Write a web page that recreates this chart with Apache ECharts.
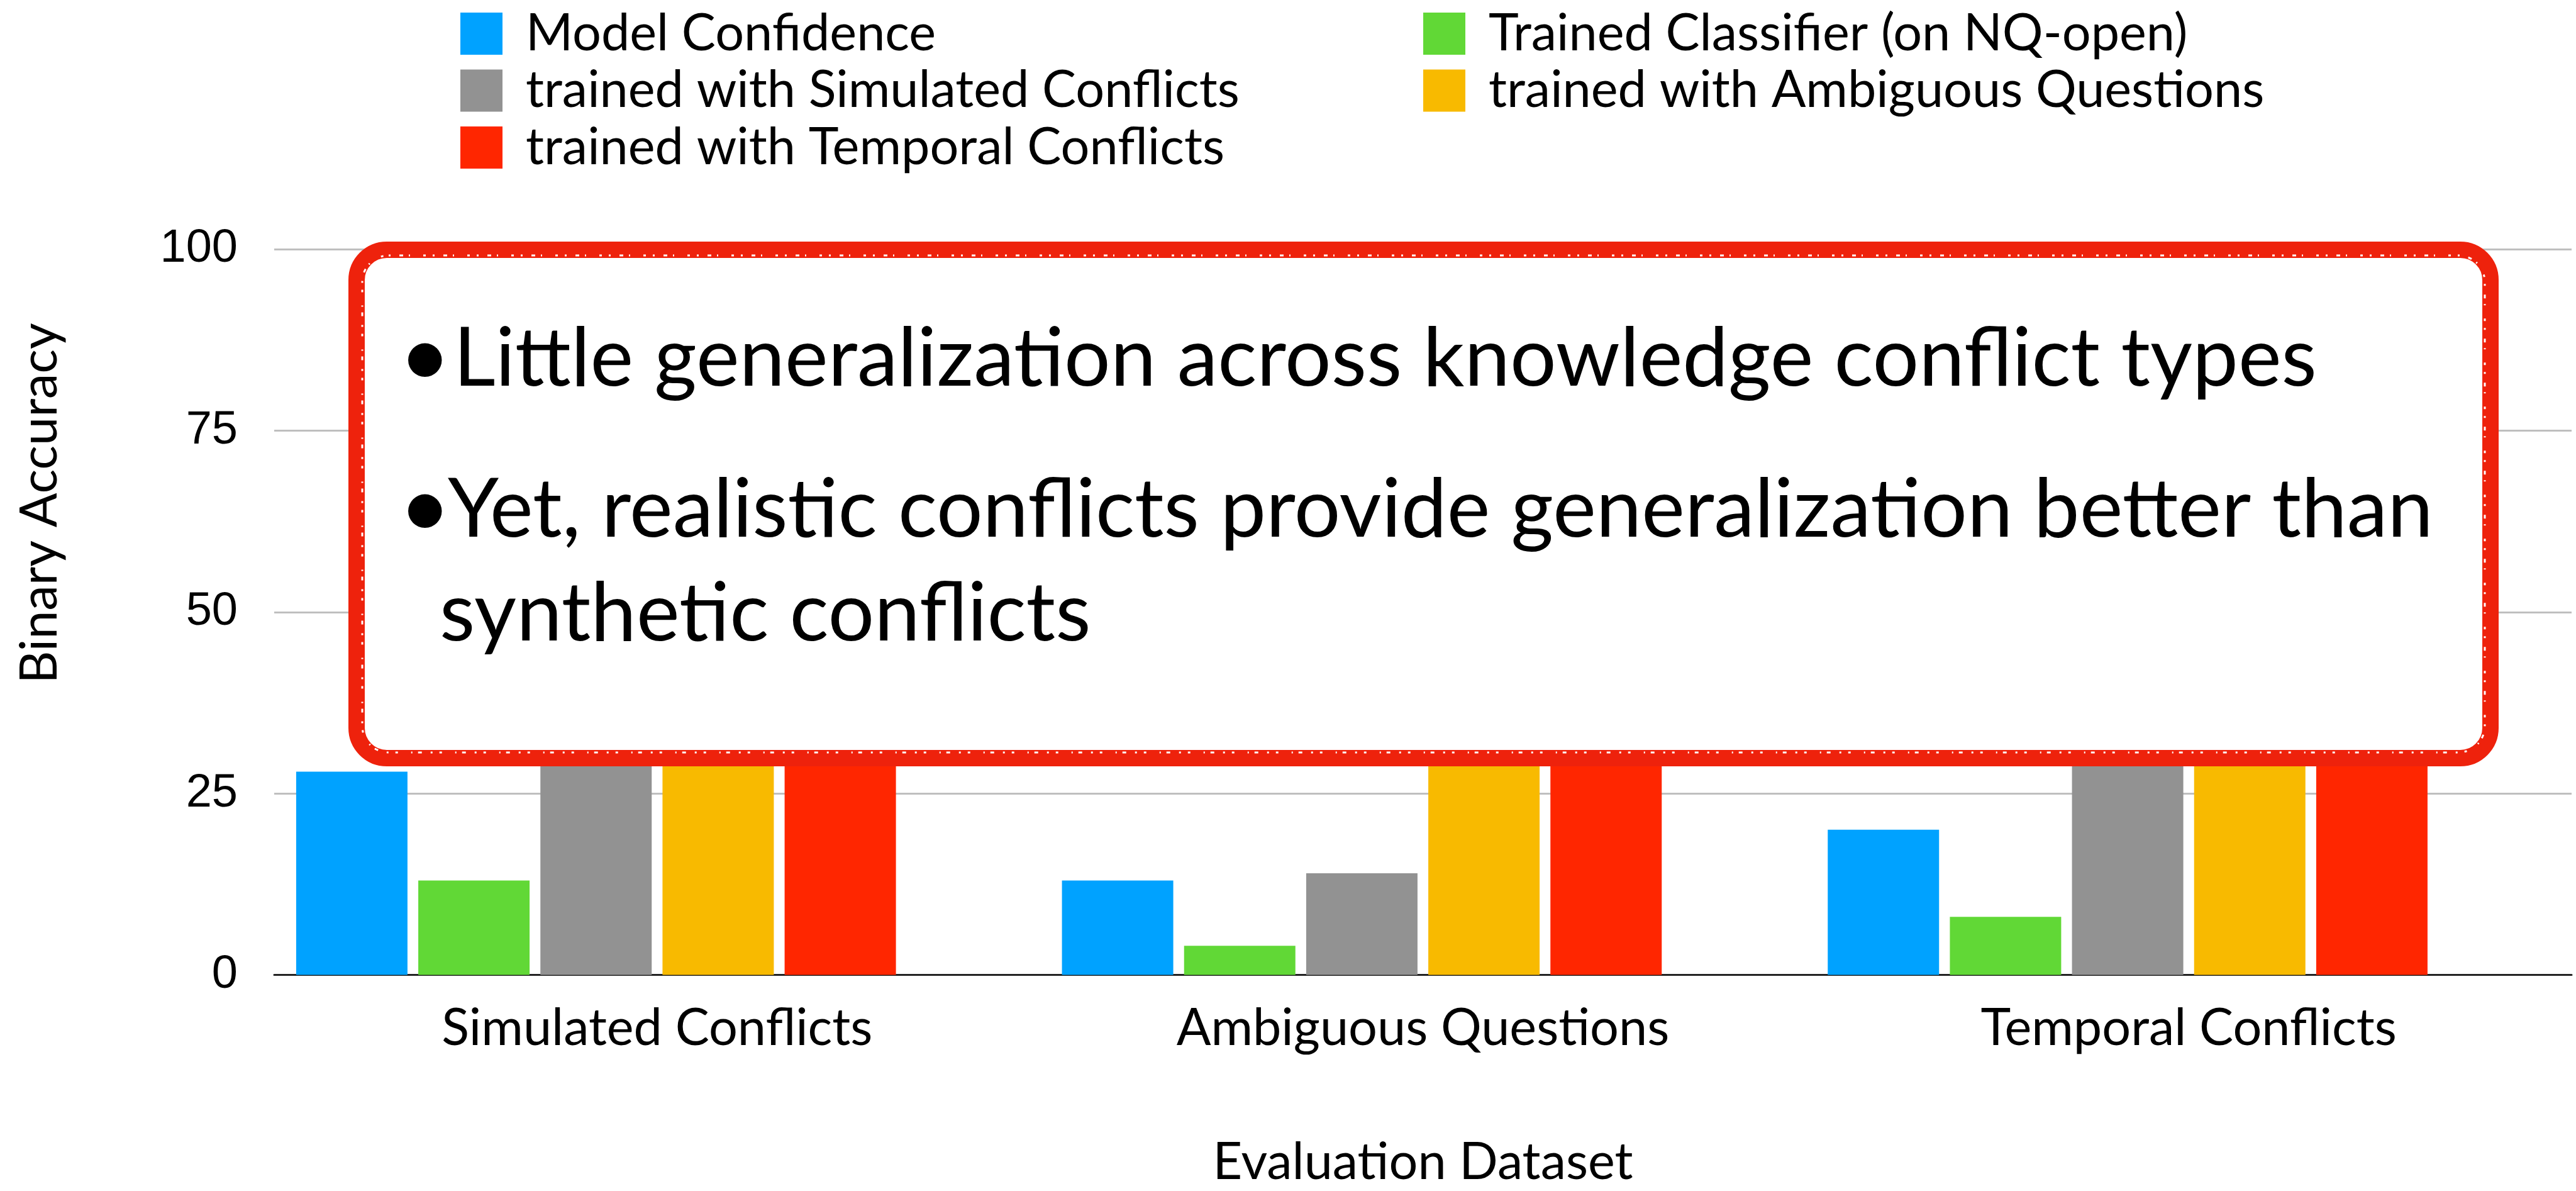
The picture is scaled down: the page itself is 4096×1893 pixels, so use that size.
<!DOCTYPE html>
<html>
<head>
<meta charset="utf-8">
<script src="https://cdn.jsdelivr.net/npm/echarts@6/dist/echarts.min.js"></script>
<style>
  html, body { margin: 0; padding: 0; background: #fff; }
  #chart { width: 4096px; height: 1893px; }
</style>
</head>
<body>
<div id="chart"></div>
<script>
// categories on the x axis
const categories = ["Simulated Conflicts", "Ambiguous Questions", "Temporal Conflicts"];

// series names (legend order)
const seriesNames = [
  "Model Confidence",
  "Trained Classifier (on NQ-open)",
  "trained with Simulated Conflicts",
  "trained with Ambiguous Questions",
  "trained with Temporal Conflicts"
];
const seriesColors = ["#00A2FF", "#61D836", "#929292", "#F8BA00", "#FF2600"];

// values (tops of some bars are hidden behind the call-out box)
const modelConfidence = [28, 13, 20];
const trainedClassifier = [13, 4, 8];
const trainedSimulated = [85, 14, 29];
const trainedAmbiguous = [60, 80, 55];
const trainedTemporal = [55, 50, 85];
// empty sixth slot that the original chart keeps at the right of each group
const emptySlot = [null, null, null];

const yTicks = { min: 0, max: 100, interval: 25 };

const boxLines = [
  "Little generalization across knowledge conflict types",
  "Yet, realistic conflicts provide generalization better than",
  "synthetic conflicts"
];

const textFont = "Lato, 'Open Sans', sans-serif";

let chart = echarts.init(document.getElementById("chart"));

const values = [modelConfidence, trainedClassifier, trainedSimulated, trainedAmbiguous, trainedTemporal];
let series = values.map(function (v, i) {
  return {
    name: seriesNames[i],
    type: "bar",
    data: v,
    barWidth: 177,
    barGap: "9.7%",
    itemStyle: { color: seriesColors[i] },
    animation: false
  };
});
series.push({
  name: "",
  type: "bar",
  data: emptySlot,
  barWidth: 177,
  barGap: "9.7%",
  animation: false
});

const legendText = {
  fontFamily: textFont,
  fontSize: 81,
  color: "#000",
  lineHeight: 67,
  padding: [0, 0, 0, 32]
};

function bullet(x, y) {
  return {
    type: "text",
    x: x, y: y,
    style: { text: "•", fontFamily: textFont, fontSize: 144, fill: "#000", verticalAlign: "middle" },
    z: 101
  };
}
function boxText(x, y, s) {
  return {
    type: "text",
    x: x, y: y,
    style: { text: s, fontFamily: textFont, fontSize: 130, fill: "#000", verticalAlign: "middle" },
    z: 101
  };
}

let option = {
  backgroundColor: "#fff",
  animation: false,
  legend: [
    {
      data: [seriesNames[0], seriesNames[2], seriesNames[4]],
      orient: "vertical",
      left: 727,
      top: 8,
      itemWidth: 67,
      itemHeight: 67,
      itemGap: 9.5,
      icon: "rect",
      textStyle: legendText,
      selectedMode: false
    },
    {
      data: [seriesNames[1], seriesNames[3]],
      orient: "vertical",
      left: 2258,
      top: 8,
      itemWidth: 67,
      itemHeight: 67,
      itemGap: 9.5,
      icon: "rect",
      textStyle: legendText,
      selectedMode: false
    }
  ],
  grid: {
    left: 436,
    right: 7,
    top: 396,
    bottom: 332,
    containLabel: false
  },
  xAxis: {
    type: "category",
    data: categories,
    name: "Evaluation Dataset",
    nameLocation: "middle",
    nameGap: 298,
    nameTextStyle: {
      fontFamily: textFont,
      fontSize: 81,
      color: "#000",
      verticalAlign: "middle"
    },
    axisLine: { show: true, lineStyle: { color: "#222", width: 3 } },
    axisTick: { show: false },
    axisLabel: {
      margin: 85,
      fontFamily: textFont,
      fontSize: 81,
      color: "#000",
      verticalAlign: "middle"
    }
  },
  yAxis: {
    type: "value",
    min: yTicks.min,
    max: yTicks.max,
    interval: yTicks.interval,
    axisLine: { show: false },
    axisTick: { show: false },
    axisLabel: {
      margin: 58,
      fontFamily: "'Liberation Sans', Arial, sans-serif",
      fontSize: 74,
      color: "#000"
    },
    splitLine: { lineStyle: { color: "#BFBFBF", width: 3 } }
  },
  graphic: [
    {
      type: "text",
      x: 64,
      y: 800,
      rotation: Math.PI / 2,
      style: {
        text: "Binary Accuracy",
        fontFamily: textFont,
        fontSize: 81,
        fill: "#000",
        align: "center",
        verticalAlign: "middle"
      },
      z: 10
    },
    {
      type: "rect",
      shape: { x: 567, y: 397, width: 3393, height: 808, r: 48 },
      style: { fill: "#fff", stroke: "#EE220C", lineWidth: 26 },
      z: 100
    },
    // crayon-like specks along the inner edge of the border
    {
      type: "rect",
      shape: { x: 576, y: 406, width: 3375, height: 790, r: 42 },
      style: { fill: null, stroke: "#fff", lineWidth: 3, lineDash: [3, 14, 6, 9, 2, 21, 4, 11] },
      z: 100.5
    },
    bullet(634, 569),
    boxText(721, 571, boxLines[0]),
    bullet(634, 809),
    boxText(712, 811, boxLines[1]),
    boxText(699, 976, boxLines[2])
  ],
  series: series
};

chart.setOption(option);
</script>
</body>
</html>
